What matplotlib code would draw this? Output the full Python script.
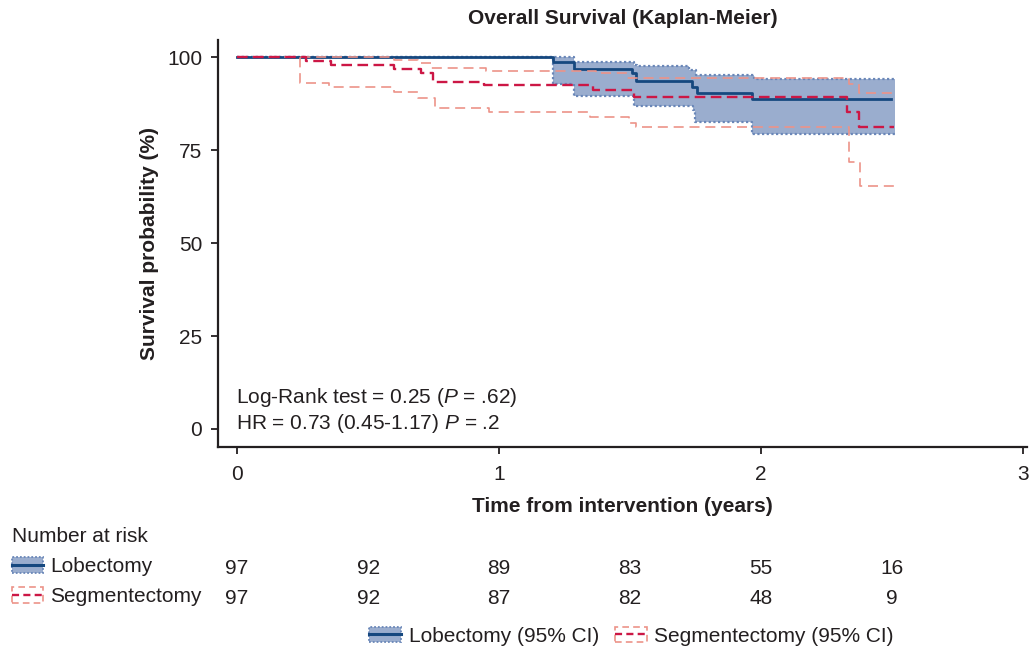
import numpy as np
import matplotlib
matplotlib.use('Agg')
import matplotlib.pyplot as plt
from matplotlib.lines import Line2D
from matplotlib.patches import Rectangle
import matplotlib.transforms as mtransforms

plt.rcParams['font.family'] = ['Liberation Sans', 'DejaVu Sans']
plt.rcParams['mathtext.fontset'] = 'custom'
plt.rcParams['mathtext.rm'] = 'Liberation Sans'
plt.rcParams['mathtext.it'] = 'Liberation Sans:italic'

# ---------------- data ----------------
# Lobectomy KM estimate (%)
lob_t = [0, 1.205, 1.287, 1.509, 1.522, 1.735, 1.755, 1.967, 2.497]
lob_s = [100, 98.8, 96.8, 95.8, 93.7, 92.1, 90.5, 88.7, 88.7]
# Lobectomy 95% CI
lob_ci_t = [0, 1.205, 1.287, 1.515, 1.528, 1.725, 1.740, 1.748, 1.751, 1.967, 1.973, 2.510]
lob_ci_hi = [100, 100, 98.7, 98.0, 97.65, 96.6, 96.6, 96.6, 95.2, 95.2, 94.2, 94.2]
lob_ci_lo = [100, 92.8, 89.65, 86.95, 86.95, 86.95, 85.8, 82.6, 82.6, 79.3, 79.3, 79.3]

# Segmentectomy KM estimate (%)
seg_t = [0, 0.263, 0.359, 0.600, 0.702, 0.746, 0.943, 1.357, 1.515, 2.329, 2.374, 2.507]
seg_s = [100, 99.0, 98.0, 96.9, 95.9, 93.4, 92.6, 91.2, 89.2, 85.3, 81.3, 81.3]
# Segmentectomy 95% CI
seg_hi_t = [0, 0.600, 0.689, 0.740, 0.950, 1.369, 1.490, 2.334, 2.373, 2.507]
seg_hi = [100, 99.3, 98.4, 97.0, 96.2, 95.7, 94.3, 92.8, 90.3, 90.3]
seg_lo_t = [0, 0.240, 0.352, 0.600, 0.689, 0.755, 0.960, 1.348, 1.496, 1.522, 2.334, 2.377, 2.507]
seg_lo = [100, 93.0, 91.9, 90.6, 89.1, 86.25, 85.2, 84.0, 82.4, 81.3, 71.9, 65.4, 65.4]

# Number at risk
risk_times = [0, 0.5, 1, 1.5, 2, 2.5]
risk_lob = [97, 92, 89, 83, 55, 16]
risk_seg = [97, 92, 87, 82, 48, 9]

groups = ['Lobectomy', 'Segmentectomy']
legend_labels = ['Lobectomy (95% CI)', 'Segmentectomy (95% CI)']
title = 'Overall Survival (Kaplan-Meier)'
xlabel = 'Time from intervention (years)'
ylabel = 'Survival probability (%)'
xticks = [0, 1, 2, 3]
yticks = [0, 25, 50, 75, 100]

# ---------------- styles ----------------
BLUE = '#16487F'
FILL = '#9AADCE'
DOT = '#6A87B8'
RED = '#CC1745'
PINK = '#EC9389'
FS = 15

fig = plt.figure(figsize=(10.29, 6.47), dpi=100)
ax = fig.add_axes([0.2121, 0.3096, 0.786, 0.6286])

ax.fill_between(lob_ci_t, lob_ci_lo, lob_ci_hi, step='post', color=FILL, lw=0, zorder=1)
ax.step(lob_ci_t, lob_ci_hi, where='post', color=DOT, lw=1.6, ls=(0, (1, 1.1)), zorder=2)
ax.step(lob_ci_t, lob_ci_lo, where='post', color=DOT, lw=1.6, ls=(0, (1, 1.1)), zorder=2)
ax.step(lob_t, lob_s, where='post', color=BLUE, lw=2.0, zorder=3)

ax.step(seg_hi_t, seg_hi, where='post', color=PINK, lw=1.2, ls=(0, (6, 3.5)), zorder=4)
ax.step(seg_lo_t, seg_lo, where='post', color=PINK, lw=1.2, ls=(0, (6, 3.5)), zorder=4)
ax.step(seg_t, seg_s, where='post', color=RED, lw=1.7, ls=(0, (4.5, 2.3)), zorder=5)

ax.set_xlim(-0.072, 3.015)
ax.set_ylim(-4.76, 104.65)
ax.set_xticks(xticks)
ax.set_yticks(yticks)
for s in ['top', 'right']:
    ax.spines[s].set_visible(False)
for s in ['left', 'bottom']:
    ax.spines[s].set_linewidth(1.6)
    ax.spines[s].set_color('#231F20')
ax.tick_params(axis='both', direction='out', length=5, width=1.3, colors='#231F20',
               labelsize=FS, labelcolor='#231F20')
ax.tick_params(axis='x', pad=8.5)
ax.tick_params(axis='y', pad=6.5)

ax.set_xlabel(xlabel, fontsize=FS, fontweight='bold', color='#231F20')
ax.xaxis.set_label_coords(0.5, (446.7 - 507) / 406.7)
ax.xaxis.label.set_va('center')
ax.set_ylabel(ylabel, fontsize=FS, fontweight='bold', color='#231F20')
ax.yaxis.set_label_coords((150 - 218.3) / 808.7, 0.5)
ax.yaxis.label.set_va('center')

fig.text(0.2121 + 0.786 / 2, 1 - 18 / 647, title, ha='center', va='center',
         fontsize=FS, fontweight='bold', color='#231F20')

ax.text(-0.003, 7.08, 'Log-Rank test = 0.25 ($\\mathit{P}$ = .62)', fontsize=FS,
        ha='left', va='baseline', color='#231F20')
ax.text(-0.003, -0.08, 'HR = 0.73 (0.45-1.17) $\\mathit{P}$ = .2', fontsize=FS,
        ha='left', va='baseline', color='#231F20')

# ---------------- risk table ----------------
blend = mtransforms.blended_transform_factory(ax.transData, fig.transFigure)
fig.text(11.7 / 1029, 1 - 541.7 / 647, 'Number at risk', fontsize=FS, ha='left',
         va='baseline', color='#231F20')
for vals, yb in [(risk_lob, 574), (risk_seg, 604)]:
    for t, v in zip(risk_times, vals):
        ax.text(t, 1 - yb / 647, str(v), transform=blend, ha='center', va='baseline',
                fontsize=FS, color='#231F20', clip_on=False)


def lob_handle():
    return (Rectangle((0, 0), 1, 1, facecolor=FILL, edgecolor=DOT, lw=1.3, ls=(0, (1, 1.1))),
            Line2D([], [], color=BLUE, lw=2.2))


def seg_handle():
    return (Rectangle((0, 0), 1, 1, facecolor='none', edgecolor=PINK, lw=1.2, ls=(0, (4, 2.5))),
            Line2D([], [], color=RED, lw=1.7, ls=(0, (3, 1.8))))


for h, lab, yc in [(lob_handle(), groups[0], 566.7), (seg_handle(), groups[1], 596.7)]:
    lg = fig.legend([h], [lab], loc='center left', bbox_to_anchor=(11.7 / 1029, 1 - yc / 647),
                    frameon=False, fontsize=FS, handlelength=1.5, handleheight=0.75,
                    handletextpad=0.36, borderpad=0, borderaxespad=0)
    for t in lg.get_texts():
        t.set_color('#231F20')

lg = fig.legend([lob_handle(), seg_handle()], legend_labels, loc='center',
                bbox_to_anchor=(631.5 / 1029, 1 - 636 / 647), ncol=2, frameon=False,
                fontsize=FS, handlelength=1.55, handleheight=0.75, handletextpad=0.36,
                columnspacing=0.75, borderpad=0, borderaxespad=0)
for t in lg.get_texts():
    t.set_color('#231F20')

fig.savefig('out.png', dpi=100)
